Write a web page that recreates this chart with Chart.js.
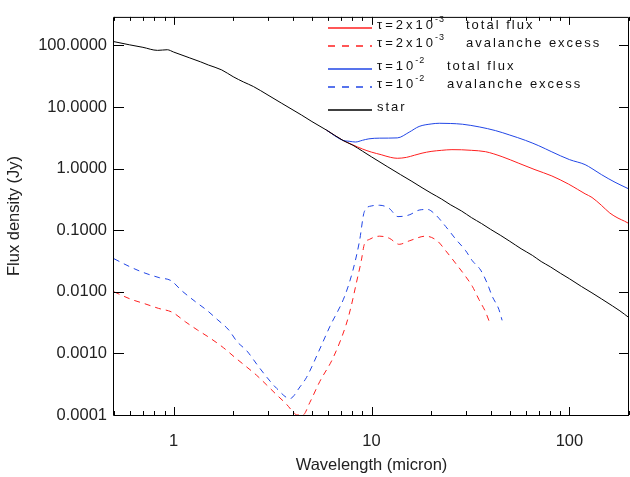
<!DOCTYPE html>
<html>
<head>
<meta charset="utf-8">
<script src="https://cdn.jsdelivr.net/npm/chart.js@4.4.1/dist/chart.umd.min.js"></script>
<style>
  body { margin: 0; background: #fff; }
  canvas { display: block; }
</style>
</head>
<body>
<canvas id="sed" width="630" height="477"></canvas>
<script>
// wavelength in micron, flux density in Jy
const starWl   = [0.5, 0.6, 0.7, 0.83, 0.93, 1.0, 1.2, 1.37, 1.5, 1.75, 2.0, 2.26, 2.53, 3.0, 3.5, 4.43, 5.0, 5.92, 7.17, 8.06, 9.0, 10, 12, 14, 16, 18, 20, 22.6, 25, 28.5, 32, 36, 40, 45, 50, 57, 65, 72, 80, 90, 100, 115, 130, 145, 165, 180, 200];
const starFlux = [115, 102, 93, 83, 85, 78, 63, 54, 48, 40, 31, 25.4, 21.5, 15.6, 11.6, 7.4, 5.8, 4.22, 2.87, 2.39, 1.92, 1.55, 1.08, 0.80, 0.62, 0.49, 0.40, 0.32, 0.26, 0.205, 0.16, 0.128, 0.103, 0.082, 0.066, 0.050, 0.039, 0.031, 0.0255, 0.020, 0.0163, 0.0122, 0.0096, 0.0077, 0.0059, 0.0049, 0.0038];

// tau = 2e-3
const redTotWl   = [5.92, 7.17, 8.0, 9.0, 10, 11.2, 12.5, 13.5, 15, 16.5, 18, 20, 22.6, 25.5, 28.5, 32, 37.7, 45.7, 55.5, 67, 81.5, 99, 110, 120, 130, 145, 160, 176, 190, 200];
const redTotFlux = [4.22, 2.87, 2.45, 2.08, 1.85, 1.68, 1.52, 1.47, 1.52, 1.65, 1.78, 1.9, 1.98, 2.03, 2.02, 1.98, 1.88, 1.56, 1.22, 0.96, 0.76, 0.56, 0.46, 0.39, 0.34, 0.254, 0.19, 0.157, 0.14, 0.128];
const redExWl   = [0.5, 0.61, 0.71, 0.84, 0.985, 1.15, 1.32, 1.53, 1.79, 2.05, 2.3, 2.63, 2.96, 3.32, 3.73, 4.02, 4.2, 4.5, 4.88, 5.48, 6.4, 7.46, 7.9, 8.38, 8.88, 9.2, 9.77, 11.0, 12.3, 13.8, 15.5, 18.8, 21.5, 23.7, 26.7, 29.9, 32.3, 34.9, 37.7, 39.2];
const redExFlux = [0.01, 0.00755, 0.00645, 0.00538, 0.00465, 0.00324, 0.0024, 0.00177, 0.00123, 0.00085, 0.00063, 0.00044, 0.000305, 0.000212, 0.000148, 0.000112, 0.0001, 0.0001, 0.00016, 0.00035, 0.00085, 0.0030, 0.0059, 0.0138, 0.032, 0.059, 0.071, 0.080, 0.074, 0.059, 0.067, 0.080, 0.067, 0.0465, 0.0286, 0.0177, 0.0123, 0.0075, 0.0047, 0.0034];

// tau = 1e-2
const blueTotWl   = [5.92, 7.17, 7.7, 8.3, 9.0, 9.7, 11.0, 13.5, 15.5, 17.4, 20, 22, 25, 28.8, 35, 42.4, 50, 60, 70, 81.5, 100, 120, 130, 145, 170, 200];
const blueTotFlux = [4.22, 2.87, 2.78, 2.70, 2.88, 3.04, 3.12, 3.15, 3.9, 4.83, 5.3, 5.44, 5.4, 5.25, 4.75, 4.13, 3.5, 2.87, 2.35, 1.87, 1.4, 1.16, 1.0, 0.80, 0.6, 0.466];
const blueExWl   = [0.5, 0.6, 0.7, 0.85, 0.97, 1.1, 1.29, 1.48, 1.66, 1.9, 2.09, 2.35, 2.63, 2.96, 3.32, 3.87, 4.35, 4.7, 5.48, 6.15, 7.32, 8.06, 8.7, 9.2, 9.96, 11.0, 12.3, 13.6, 15.5, 17.4, 19.2, 21.1, 23.7, 26.7, 29.9, 32.3, 35.6, 38.4, 40.7, 44, 45.7];
const blueExFlux = [0.0344, 0.0256, 0.0207, 0.0169, 0.0152, 0.0104, 0.0069, 0.00495, 0.00357, 0.0024, 0.00156, 0.00109, 0.00067, 0.00041, 0.00027, 0.000185, 0.000286, 0.00041, 0.00118, 0.0027, 0.0085, 0.0225, 0.067, 0.2, 0.247, 0.254, 0.225, 0.166, 0.177, 0.212, 0.217, 0.177, 0.115, 0.071, 0.0465, 0.032, 0.0225, 0.0138, 0.0085, 0.0052, 0.00344];

const xTickValues = [1, 10, 100];
const yTickValues = [0.0001, 0.001, 0.01, 0.1, 1, 10, 100];
const yTickLabels = ['0.0001', '0.0010', '0.0100', '0.1000', '1.0000', '10.0000', '100.0000'];

const RED = '#ff1f1f';
const BLUE = '#2146e6';
const FONT = '"Liberation Sans", Arial, sans-serif';

function pts(wl, flux) {
  return wl.map((w, i) => ({ x: w, y: flux[i] }));
}

function line(label, wl, flux, color, dashed, order) {
  return {
    label,
    data: pts(wl, flux),
    borderColor: color,
    borderWidth: 1,
    borderDash: dashed ? [6, 5] : [],
    pointRadius: 0,
    fill: false,
    cubicInterpolationMode: 'monotone',
    order
  };
}

// legend rows: tau prefix, exponent, description
const legendRows = [
  { pre: 'τ=2x10', sup: '-3', text: 'total flux',       color: RED,    dash: [],     y: 28, tx: 466 },
  { pre: 'τ=2x10', sup: '-3', text: 'avalanche excess', color: RED,    dash: [7, 7], y: 46, tx: 466 },
  { pre: 'τ=10',   sup: '-2', text: 'total flux',       color: BLUE,   dash: [],     y: 69, tx: 447 },
  { pre: 'τ=10',   sup: '-2', text: 'avalanche excess', color: BLUE,   dash: [7, 7], y: 87, tx: 447 },
  { pre: 'star',   sup: '',   text: '',                 color: '#000', dash: [],     y: 110, tx: 0 }
];

const frameTicks = {
  id: 'frameTicks',
  afterDatasetsDraw(chart) {
    const { ctx, chartArea: a, scales: { x, y } } = chart;
    ctx.save();
    ctx.strokeStyle = '#000';
    ctx.lineWidth = 1;
    ctx.beginPath();
    ctx.rect(a.left - 0.5, a.top + 0.5, a.right - a.left, a.bottom - a.top);
    // x: majors at decades, minors at 2..9
    for (let d = 0.1; d <= 100; d *= 10) {
      for (let m = 1; m <= 9; m++) {
        const v = m * d;
        if (v < x.min || v > x.max) continue;
        const px = Math.round(x.getPixelForValue(v)) + 0.5;
        const len = m === 1 ? 8 : 4;
        ctx.moveTo(px, a.bottom); ctx.lineTo(px, a.bottom - len);
        ctx.moveTo(px, a.top); ctx.lineTo(px, a.top + len);
      }
    }
    yTickValues.forEach(v => {
      const py = Math.round(y.getPixelForValue(v)) + 0.5;
      ctx.moveTo(a.left, py); ctx.lineTo(a.left + 10, py);
      ctx.moveTo(a.right, py); ctx.lineTo(a.right - 10, py);
    });
    ctx.stroke();
    ctx.restore();
  }
};

const tauLegend = {
  id: 'tauLegend',
  afterDraw(chart) {
    const ctx = chart.ctx;
    ctx.save();
    ctx.textBaseline = 'alphabetic';
    legendRows.forEach(r => {
      // sample line, on a pixel boundary so it comes out soft like the plot lines
      ctx.strokeStyle = r.color;
      ctx.lineWidth = 1.5;
      ctx.setLineDash(r.dash);
      ctx.beginPath();
      ctx.moveTo(328, r.y);
      ctx.lineTo(372, r.y);
      ctx.stroke();
      ctx.setLineDash([]);

      ctx.fillStyle = '#111';
      ctx.font = '13px ' + FONT;
      ctx.letterSpacing = r.sup ? '3px' : '2px';
      ctx.fillText(r.pre, 377, r.y + 1);
      if (r.sup) {
        const w = ctx.measureText(r.pre).width;
        ctx.font = '9px ' + FONT;
        ctx.letterSpacing = '1px';
        ctx.fillText(r.sup, 376 + w, r.y - 6);
      }
      if (r.text) {
        ctx.font = '13px ' + FONT;
        ctx.letterSpacing = '2px';
        ctx.fillText(r.text, r.tx, r.y + 1);
      }
    });
    ctx.restore();
  }
};

new Chart(document.getElementById('sed'), {
  type: 'line',
  data: {
    datasets: [
      line('star', starWl, starFlux, '#000', false, 0),
      line('τ=2x10⁻³ total flux', redTotWl, redTotFlux, RED, false, 2),
      line('τ=2x10⁻³ avalanche excess', redExWl, redExFlux, RED, true, 4),
      line('τ=10⁻² total flux', blueTotWl, blueTotFlux, BLUE, false, 1),
      line('τ=10⁻² avalanche excess', blueExWl, blueExFlux, BLUE, true, 3)
    ]
  },
  options: {
    responsive: false,
    animation: false,
    devicePixelRatio: 1,
    layout: { padding: { top: 6, right: 1, left: 0, bottom: 0 } },
    plugins: { legend: { display: false }, tooltip: { enabled: false } },
    scales: {
      x: {
        type: 'logarithmic',
        min: 0.5,
        max: 200,
        grid: { display: false, drawTicks: false },
        border: { display: false },
        afterBuildTicks: s => { s.ticks = xTickValues.map(v => ({ value: v })); },
        afterFit: s => { s.height = 62; },
        ticks: {
          color: '#222',
          font: { family: FONT, size: 16.5 },
          padding: 17,
          maxRotation: 0,
          autoSkip: false,
          callback: v => String(v)
        },
        title: {
          display: true,
          text: 'Wavelength (micron)',
          color: '#222',
          font: { family: FONT, size: 16.5 },
          padding: { top: 0, bottom: 2 }
        }
      },
      y: {
        type: 'logarithmic',
        min: 0.0001,
        max: 290,
        grid: { display: false, drawTicks: false },
        border: { display: false },
        afterBuildTicks: s => { s.ticks = yTickValues.map(v => ({ value: v })); },
        afterFit: s => { s.width = 114; },
        ticks: {
          color: '#222',
          font: { family: FONT, size: 16.5 },
          padding: 7,
          autoSkip: false,
          callback: (v, i) => yTickLabels[i]
        },
        title: {
          display: true,
          text: 'Flux density (Jy)',
          color: '#222',
          font: { family: FONT, size: 16.5 },
          padding: { top: 5, bottom: 0 }
        }
      }
    }
  },
  plugins: [frameTicks, tauLegend]
});
</script>
</body>
</html>
